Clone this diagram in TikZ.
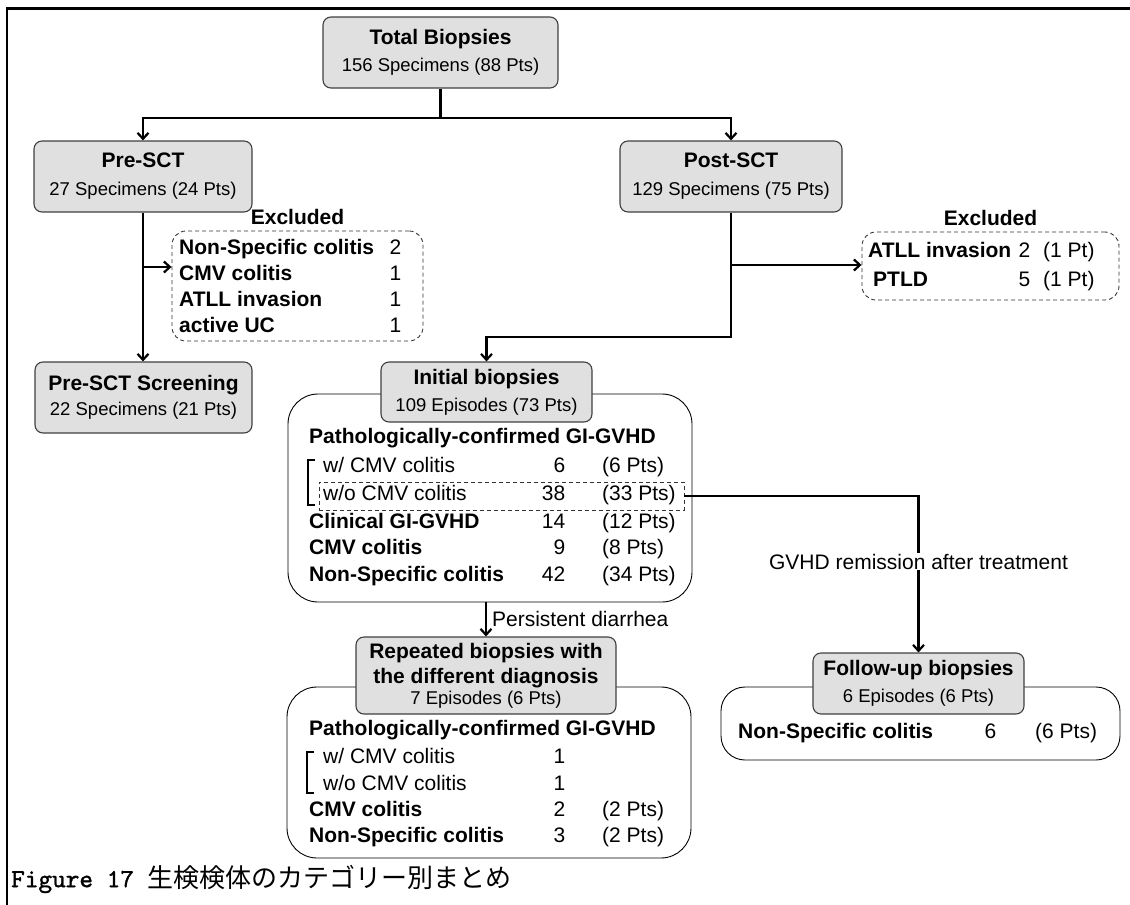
\documentclass[tikz,border=0pt]{standalone}
\usepackage{fontspec}
\setmainfont{Liberation Sans}
\setmonofont[FakeBold=1.2]{lmmono10-regular.otf}
\newfontfamily\cjk{Noto Sans CJK JP}
\usetikzlibrary{arrows.meta, positioning}
\newcommand{\subln}[1]{{\fontsize{18.5}{22}\selectfont #1}}
\newcommand{\tally}[5]{\makebox[#1][l]{#2}\makebox[0pt][r]{#3}\hspace{#4}#5}
\tikzset{
  gbox/.style={draw=black!75, line width=1.1pt, fill=black!12, rounded corners=8pt,
               align=center, inner sep=0pt, font=\fontsize{21}{28}\selectfont},
  cbox/.style={draw, line width=0.9pt, rounded corners=30pt, inner sep=0pt},
  xbox/.style={draw=black!80, dash pattern=on 4pt off 3pt, line width=0.9pt,
               rounded corners=14pt, inner sep=0pt},
  trow/.style={anchor=west, inner sep=0pt, text height=15pt, text depth=4pt,
               font=\fontsize{21}{25}\selectfont},
  hdr/.style={inner sep=0pt, text height=15pt, text depth=4pt,
              font=\fontsize{21}{25}\selectfont\bfseries},
  fline/.style={line width=2.2pt},
  farr/.style={line width=2.2pt, -{Straight Barb[length=6pt,width=11pt]}},
  brk/.style={line width=1.8pt},
}
\begin{document}
\begin{tikzpicture}[x=1pt, y=-1pt]
\useasboundingbox (0,0) rectangle (1130,905);
\draw[line width=2.6pt] (7,905) -- (7,8.5) -- (1130,8.5);
% top level
\node[gbox, minimum width=235pt, minimum height=71pt] (total) at (440.5,52.5)
  {\textbf{Total Biopsies}\\[-1pt]\subln{156 Specimens (88 Pts)}};
\node[gbox, minimum width=218pt, minimum height=71pt] (pre) at (143,176.5)
  {\textbf{Pre-SCT}\\\subln{27 Specimens (24 Pts)}};
\node[gbox, minimum width=222pt, minimum height=71pt] (post) at (731,176.5)
  {\textbf{Post-SCT}\\\subln{129 Specimens (75 Pts)}};
\node[gbox, minimum width=217pt, minimum height=71pt] (screen) at (143.5,397.5)
  {\textbf{Pre-SCT Screening}\\[-3pt]\subln{22 Specimens (21 Pts)}};
\coordinate (split) at (total.south |- 0,118);
\draw[fline] (total.south) -- (split);
\draw[farr] (split) -| (pre.north);
\draw[farr] (split) -| (post.north);
% excluded before SCT
\node[xbox, minimum width=251pt, minimum height=110pt] (exclL) at (297.5,286) {};
\node[hdr, above=2pt of exclL] (exclLt) {Excluded};
\node[trow] (exL1) at (179,249) {\tally{222pt}{\textbf{Non-Specific colitis}}{2}{0pt}{}};
\node[trow] (exL2) at (179,275) {\tally{222pt}{\textbf{CMV colitis}}{1}{0pt}{}};
\node[trow] (exL3) at (179,301) {\tally{222pt}{\textbf{ATLL invasion}}{1}{0pt}{}};
\node[trow] (exL4) at (179,327) {\tally{222pt}{\textbf{active UC}}{1}{0pt}{}};
\draw[farr] (pre.south) -- (pre.south |- screen.north);
\coordinate (forkL) at (pre.south |- 0,267);
\draw[farr] (forkL) -- (forkL -| exclL.west);
% excluded after SCT
\node[xbox, minimum width=257pt, minimum height=68pt] (exclR) at (990.5,266) {};
\node[hdr, above=2pt of exclR] (exclRt) {Excluded};
\node[trow] (exR1) at (868,252) {\tally{162pt}{\textbf{ATLL invasion}}{2}{13pt}{(1 Pt)}};
\node[trow] (exR2) at (873,281) {\tally{157pt}{\textbf{PTLD}}{5}{13pt}{(1 Pt)}};
\coordinate (forkR) at (post.south |- 0,265);
\coordinate (bendP) at (post.south |- 0,337);
\draw[farr] (forkR) -- (forkR -| exclR.west);
% initial biopsies
\node[cbox, minimum width=404pt, minimum height=208pt] (initialBox) at (490,498) {};
\node[gbox, minimum width=211pt, minimum height=60pt] (initial) at (486.5,392)
  {\textbf{Initial biopsies}\\[-1pt]\subln{109 Episodes (73 Pts)}};
\draw[farr] (post.south) -- (bendP) -| (initial.north);
\node[trow] (iniH) at (309,438) {\textbf{Pathologically-confirmed GI-GVHD}};
\node[trow] (iniW) at (323,467) {\tally{242pt}{w/ CMV colitis}{6}{37pt}{(6 Pts)}};
\node[trow] (iniWo) at (323,495) {\tally{242pt}{w/o CMV colitis}{38}{37pt}{(33 Pts)}};
\node[trow] (iniCl) at (309,523) {\tally{256pt}{\textbf{Clinical GI-GVHD}}{14}{37pt}{(12 Pts)}};
\node[trow] (iniCmv) at (309,549) {\tally{256pt}{\textbf{CMV colitis}}{9}{37pt}{(8 Pts)}};
\node[trow] (iniNs) at (309,576) {\tally{256pt}{\textbf{Non-Specific colitis}}{42}{37pt}{(34 Pts)}};
\draw[brk] (315,460) -- (308,460) -- (308,505) -- (315,505);
\node[draw=black!80, dash pattern=on 4pt off 3pt, line width=0.9pt, inner sep=0pt,
      minimum width=365pt, minimum height=28pt] (woRow) at (501.5,496) {};
% repeated biopsies
\node[cbox, minimum width=404pt, minimum height=171pt] (repeatBox) at (489,772.5) {};
\node[gbox, minimum width=260pt, minimum height=77pt] (repeated) at (486,675.5)
  {\textbf{Repeated biopsies with}\\[-3pt]\textbf{the different diagnosis}\\[-7pt]\subln{7 Episodes (6 Pts)}};
\draw[farr] (initialBox.south -| repeated.north) -- (repeated.north)
  node[midway, anchor=west, xshift=5pt, inner sep=0pt, font=\fontsize{21}{25}\selectfont] (persist) {Persistent diarrhea};
\node[trow] (repH) at (309,730) {\textbf{Pathologically-confirmed GI-GVHD}};
\node[trow] (repW) at (323,758) {\tally{242pt}{w/ CMV colitis}{1}{37pt}{}};
\node[trow] (repWo) at (323,785) {\tally{242pt}{w/o CMV colitis}{1}{37pt}{}};
\node[trow] (repCmv) at (309,811) {\tally{256pt}{\textbf{CMV colitis}}{2}{37pt}{(2 Pts)}};
\node[trow] (repNs) at (309,837) {\tally{256pt}{\textbf{Non-Specific colitis}}{3}{37pt}{(2 Pts)}};
\draw[brk] (314,752) -- (307,752) -- (307,793) -- (314,793);
% follow-up biopsies
\node[cbox, rounded corners=24pt, minimum width=399pt, minimum height=73pt] (followBox) at (920.5,723.5) {};
\node[gbox, minimum width=211pt, minimum height=61pt] (follow) at (918.5,683.5)
  {\textbf{Follow-up biopsies}\\[-1pt]\subln{6 Episodes (6 Pts)}};
\node[trow] (folNs) at (738,733) {\tally{258pt}{\textbf{Non-Specific colitis}}{6}{39pt}{(6 Pts)}};
\draw[farr] (woRow.east) -| (follow.north)
  node[pos=0.71, fill=white, inner sep=1pt, font=\fontsize{21}{25}\selectfont] (remit) {GVHD remission after treatment};
% caption
\node[anchor=west, inner sep=0pt, font=\fontsize{26}{30}\selectfont] (caption) at (11,879)
  {{\ttfamily Figure 17 }{\cjk 生検検体のカテゴリー別まとめ}};
\end{tikzpicture}
\end{document}
